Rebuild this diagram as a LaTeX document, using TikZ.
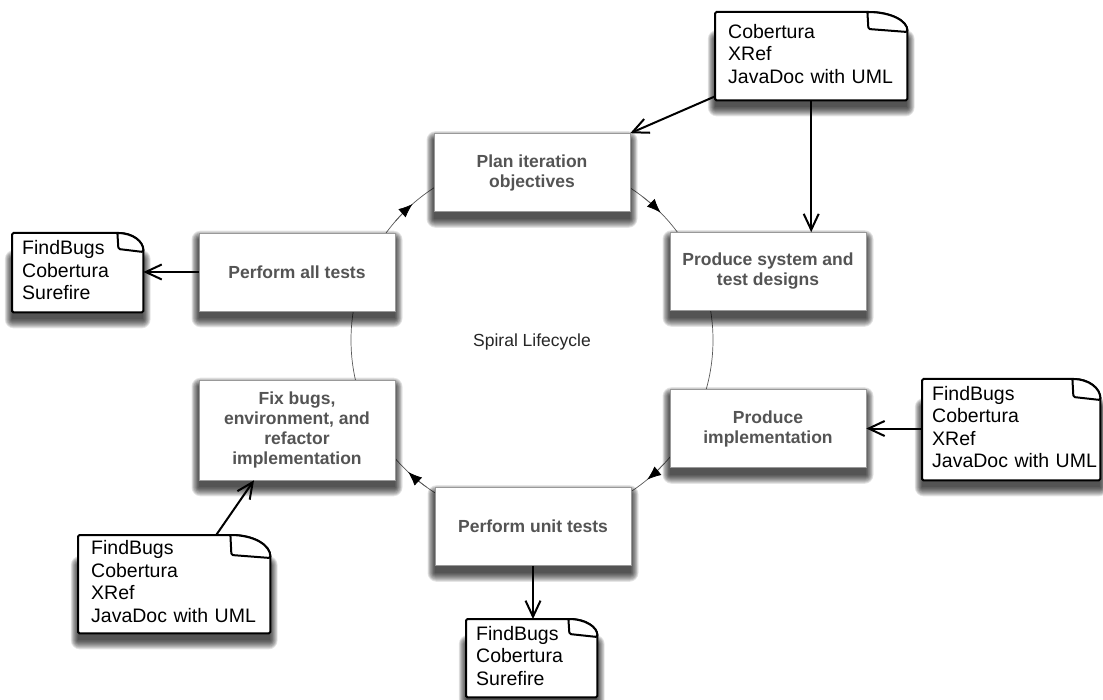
\documentclass[tikz,border=0pt]{standalone}
\usepackage{fontspec}
\setmainfont{Liberation Sans}
\usetikzlibrary{arrows.meta}
\pgfdeclarelayer{back}
\pgfdeclarelayer{shade}
\pgfdeclarelayer{paper}
\pgfsetlayers{back,shade,paper,main}

% soft drop shadow under a node: node name, how far below the top the shadow starts
\newcommand\dropshadow[2]{%
  \begin{pgfonlayer}{shade}
    \foreach \s in {0,1,...,9} {
      \fill[black, opacity=0.1, rounded corners=\s pt]
        ([xshift=-0.8*\s pt, yshift=-7pt-\s pt]#1.south west) rectangle
        ([xshift=0.8*\s pt, yshift=-7pt+\s pt-#2]#1.north east);
    }
  \end{pgfonlayer}}

% outline of a note with a folded top-right corner: node name, fold width, fold height
\newcommand\noteoutline[3]{%
  \dropshadow{#1}{#3pt}
  \begin{pgfonlayer}{paper}
    \draw[noteline, fill=white]
      (#1.north west) -- ([xshift=-#2pt]#1.north east)
      .. controls ([xshift=-0.4*#2pt]#1.north east) and ([yshift=-0.45*#3pt]#1.north east)
      .. ([yshift=-#3pt]#1.north east) -- (#1.south east) -- (#1.south west) -- cycle;
    \draw[noteline, fill=white, line join=round]
      ([xshift=-#2pt]#1.north east) -- ([xshift=-#2pt+1pt, yshift=-#3pt+3pt]#1.north east)
      -- ([yshift=-#3pt]#1.north east)
      .. controls ([yshift=-0.45*#3pt]#1.north east) and ([xshift=-0.4*#2pt]#1.north east)
      .. ([xshift=-#2pt]#1.north east);
  \end{pgfonlayer}}

% left-aligned lines of a note
\newcommand\notelines[1]{\raisebox{-3pt}{\begin{tabular}{@{}l@{}}#1\end{tabular}}}

\begin{document}
\begin{tikzpicture}[x=1pt, y=-1pt,
  stage/.style={draw=black!40, line width=0.6pt, fill=white,
      minimum width=196pt, minimum height=78pt, inner sep=4pt, align=center,
      text=black!67, font=\fontsize{17.5}{20}\selectfont\bfseries},
  note/.style={anchor=north west, inner xsep=#1, inner ysep=0pt, align=left,
      font=\fontsize{19.5}{22.5}\selectfont},
  noteline/.style={draw=black, line width=2pt, rounded corners=1.5pt},
  cyc/.style={draw=black!65, line width=0.7pt},
  cyctip/.style={cyc, -{Latex[length=14pt, width=11pt, black]}},
  link/.style={draw=black, line width=2pt,
      -{Straight Barb[length=16pt, width=15pt, line width=2pt]}}
]
\useasboundingbox (0,0) rectangle (1103,700);
\begin{pgfonlayer}{back}
  \fill[white] (0,0) rectangle (1103,700);
\end{pgfonlayer}

% the lifecycle ring
\coordinate (ctr) at (532,340);
\begin{pgfonlayer}{back}
  \draw[cyc] (532,340) circle[radius=181];
  \draw[cyctip] (ctr) ++(221:181) arc[start angle=221, end angle=228.7, radius=181];
  \draw[cyctip] (ctr) ++(307.8:181) arc[start angle=307.8, end angle=315.3, radius=181];
  \draw[cyctip] (ctr) ++(43:181) arc[start angle=43, end angle=50.5, radius=181];
  \draw[cyctip] (ctr) ++(125.7:181) arc[start angle=125.7, end angle=133.2, radius=181];
\end{pgfonlayer}

\node[font=\fontsize{17.5}{20}\selectfont, text=black!85] (title) at (532,342) {Spiral Lifecycle};

% lifecycle stages
\node[stage] (plan)   at (532,172.5) {Plan iteration\\objectives};
\node[stage] (design) at (768,271.5) {Produce system and\\test designs};
\node[stage] (impl)   at (768,428.5) {Produce\\implementation};
\node[stage] (unit)   at (533,526.5) {Perform unit tests};
\node[stage, minimum height=100pt] (fix) at (297,430)
  {Fix bugs,\\environment, and\\refactor\\implementation};
\node[stage] (all)    at (297,272) {Perform all tests};
\foreach \n in {plan,design,impl,unit,fix,all} {\dropshadow{\n}{0pt}}

% tool notes
\node[note=13pt, text width=166pt, minimum height=88pt] (ntop) at (715,12)
  {\notelines{Cobertura\\XRef\\JavaDoc with UML}};
\noteoutline{ntop}{40}{20}
\node[note=10pt, text width=111pt, minimum height=79pt] (nleft) at (12,233)
  {\notelines{FindBugs\\Cobertura\\Surefire}};
\noteoutline{nleft}{26}{19}
\node[note=10pt, text width=158pt, minimum height=101pt] (nright) at (922,379)
  {\notelines{FindBugs\\Cobertura\\XRef\\JavaDoc with UML}};
\noteoutline{nright}{28}{21}
\node[note=13pt, text width=166pt, minimum height=98pt] (nbl) at (78,535)
  {\notelines{FindBugs\\Cobertura\\XRef\\JavaDoc with UML}};
\noteoutline{nbl}{40}{23}
\node[note=10pt, text width=111pt, minimum height=78pt] (nbot) at (466,619)
  {\notelines{FindBugs\\Cobertura\\Surefire}};
\noteoutline{nbot}{29}{18}

% tool links
\draw[link] ([yshift=4pt]ntop.south west) -- (plan.north east);
\draw[link] (ntop.south) -- (ntop.south |- design.north);
\draw[link] (all.west) -- (all.west -| nleft.east);
\draw[link] (nright.west |- impl.east) -- (impl.east);
\draw[link] (unit.south) -- (unit.south |- nbot.north);
\draw[link] ([xshift=42pt]nbl.north) -- ([xshift=-43pt]fix.south);
\end{tikzpicture}
\end{document}
